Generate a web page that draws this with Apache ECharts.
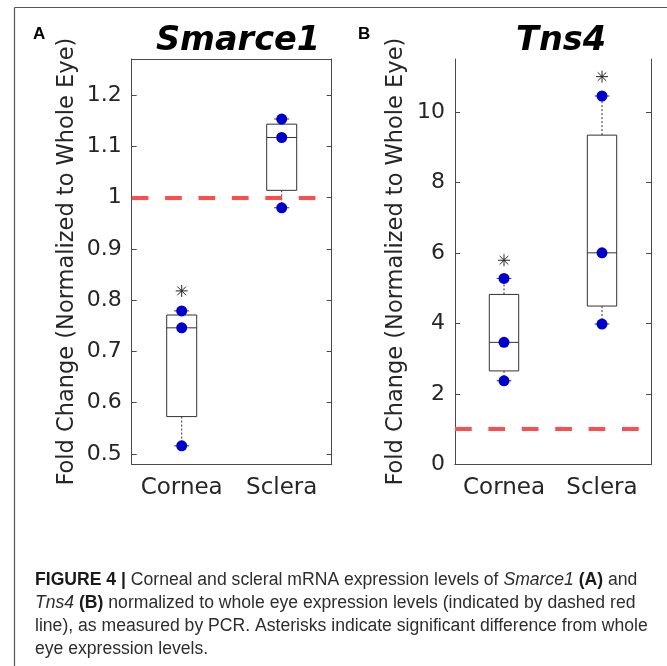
<!DOCTYPE html>
<html><head><meta charset="utf-8">
<script src="https://cdn.jsdelivr.net/npm/echarts@6/dist/echarts.min.js"></script>
<style>html,body{margin:0;padding:0;background:#fff}#c{width:667px;height:666px}</style>
</head><body><div id="c"></div>
<script>
const categories = ['Cornea', 'Sclera'];
// box stats: [lower whisker, q1, median, q3, upper whisker]
const smarceBoxes = [[0.516, 0.573, 0.746, 0.771, 0.779], [0.980, 1.014, 1.117, 1.143, 1.153]];
const smarcePoints = [[0.779, 0.746, 0.516], [1.153, 1.117, 0.980]];
const smarceStars = [0.818, null];
const smarceTicks = [0.5, 0.6, 0.7, 0.8, 0.9, 1.0, 1.1, 1.2];
const tnsBoxes = [[2.37, 2.65, 3.46, 4.82, 5.275], [3.98, 4.49, 6.0, 9.34, 10.45]];
const tnsPoints = [[5.275, 3.46, 2.37], [10.45, 6.0, 3.98]];
const tnsStars = [5.79, 11.0];
const tnsTicks = [0, 2, 4, 6, 8, 10];
const refLevel = 1;
const yName = 'Fold Change (Normalized to Whole Eye)';

const AX = '#4a4a4a', TXT = '#262626';
const FONT = 'DejaVu Sans';

function xAxes(gi) {
  return [
    { type: 'category', gridIndex: gi, data: categories, position: 'bottom',
      axisLine: { lineStyle: { color: AX, width: 1 } },
      axisTick: { inside: true, length: 5, alignWithLabel: true, lineStyle: { color: AX } },
      axisLabel: { color: TXT, fontSize: 23, fontFamily: FONT, margin: 12, interval: 0, hideOverlap: false },
      splitLine: { show: false } },
    { type: 'category', gridIndex: gi, data: categories, position: 'top',
      axisLine: { lineStyle: { color: AX, width: 1 } },
      axisTick: { inside: true, length: 5, alignWithLabel: true, lineStyle: { color: AX } },
      axisLabel: { show: false }, splitLine: { show: false } }
  ];
}
function yAxes(gi, min, max, ticks, gap) {
  return [
    { type: 'value', gridIndex: gi, min: min, max: max, position: 'left',
      name: yName, nameLocation: 'middle', nameGap: gap, nameRotate: 90,
      nameTextStyle: { color: TXT, fontSize: 22.5, fontFamily: FONT },
      axisLine: { show: true, lineStyle: { color: AX, width: 1 } },
      axisTick: { show: true, inside: true, length: 5, customValues: ticks, lineStyle: { color: AX } },
      axisLabel: { color: TXT, fontSize: 22, fontFamily: FONT, margin: 10, customValues: ticks,
        formatter: v => String(+(+v).toFixed(2)) },
      splitLine: { show: false } },
    { type: 'value', gridIndex: gi, min: min, max: max, position: 'right',
      axisLine: { show: true, lineStyle: { color: AX, width: 1 } },
      axisTick: { show: true, inside: true, length: 5, customValues: ticks, lineStyle: { color: AX } },
      axisLabel: { show: false }, splitLine: { show: false } }
  ];
}

function boxSeries(xi, yi, boxes) {
  return {
    type: 'custom', xAxisIndex: xi, yAxisIndex: yi, z: 2, silent: true,
    data: boxes.map((b, i) => [i].concat(b)),
    renderItem: function (params, api) {
      const c = api.value(0);
      const band = api.size([1, 0])[0];
      const hw = band * 0.15, cw = band * 0.075;
      const x = api.coord([c, 0])[0];
      const yl = api.coord([c, api.value(1)])[1];
      const y1 = api.coord([c, api.value(2)])[1];
      const ym = api.coord([c, api.value(3)])[1];
      const y3 = api.coord([c, api.value(4)])[1];
      const yh = api.coord([c, api.value(5)])[1];
      const st = { stroke: '#333', lineWidth: 1, fill: null };
      const dot = { stroke: '#333', lineWidth: 1, lineDash: [2, 2] };
      return { type: 'group', children: [
        { type: 'line', shape: { x1: x, y1: y3, x2: x, y2: yh }, style: dot },
        { type: 'line', shape: { x1: x, y1: y1, x2: x, y2: yl }, style: dot },
        { type: 'line', shape: { x1: x - cw, y1: yh, x2: x + cw, y2: yh }, style: st },
        { type: 'line', shape: { x1: x - cw, y1: yl, x2: x + cw, y2: yl }, style: st },
        { type: 'rect', shape: { x: x - hw, y: y3, width: 2 * hw, height: y1 - y3 }, style: { stroke: '#333', lineWidth: 1, fill: 'rgba(0,0,0,0)' } },
        { type: 'line', shape: { x1: x - hw, y1: ym, x2: x + hw, y2: ym }, style: st }
      ] };
    },
    markLine: { silent: true, symbol: 'none', label: { show: false },
      lineStyle: { color: '#ff4c4c', width: 4, type: [16.7, 16.7] },
      data: [{ yAxis: refLevel }] }
  };
}
function pointSeries(xi, yi, pts) {
  const d = [];
  pts.forEach((arr, i) => arr.forEach(v => d.push([i, v])));
  return { type: 'scatter', xAxisIndex: xi, yAxisIndex: yi, z: 5, silent: true,
    symbol: 'circle', symbolSize: 11, itemStyle: { color: '#0000cc', opacity: 1 }, data: d };
}
function starSeries(xi, yi, stars) {
  const d = [];
  stars.forEach((v, i) => { if (v != null) d.push([i, v]); });
  return { type: 'custom', xAxisIndex: xi, yAxisIndex: yi, z: 5, silent: true, data: d,
    renderItem: function (params, api) {
      const p = api.coord([api.value(0), api.value(1)]);
      const r = 6, q = 4.3;
      const st = { stroke: '#222', lineWidth: 1 };
      return { type: 'group', children: [
        { type: 'line', shape: { x1: p[0] - r, y1: p[1], x2: p[0] + r, y2: p[1] }, style: st },
        { type: 'line', shape: { x1: p[0], y1: p[1] - r, x2: p[0], y2: p[1] + r }, style: st },
        { type: 'line', shape: { x1: p[0] - q, y1: p[1] - q, x2: p[0] + q, y2: p[1] + q }, style: st },
        { type: 'line', shape: { x1: p[0] - q, y1: p[1] + q, x2: p[0] + q, y2: p[1] - q }, style: st }
      ] };
    } };
}

const chart = echarts.init(document.getElementById('c'), null, { renderer: 'canvas' });
chart.setOption({
  animation: false,
  backgroundColor: '#fff',
  title: [
    { text: 'Smarce1', left: 233, top: 19, textAlign: 'center',
      textStyle: { fontSize: 33.5, fontWeight: 'bold', fontStyle: 'italic', fontFamily: FONT, color: '#000' } },
    { text: 'Tns4', left: 556, top: 19, textAlign: 'center',
      textStyle: { fontSize: 33.5, fontWeight: 'bold', fontStyle: 'italic', fontFamily: FONT, color: '#000' } }
  ],
  grid: [
    { left: 131.7, top: 59, width: 200, height: 405.3 },
    { left: 455, top: 59, width: 196, height: 405.3 }
  ],
  xAxis: xAxes(0).concat(xAxes(1)),
  yAxis: yAxes(0, 0.48, 1.27, smarceTicks, 53).concat(yAxes(1, 0, 11.5, tnsTicks, 47)),
  series: [
    boxSeries(0, 0, smarceBoxes), pointSeries(0, 0, smarcePoints), starSeries(0, 0, smarceStars),
    boxSeries(2, 2, tnsBoxes), pointSeries(2, 2, tnsPoints), starSeries(2, 2, tnsStars)
  ],
  graphic: [
    { type: 'line', shape: { x1: 14.5, y1: 7.5, x2: 667, y2: 7.5 }, style: { stroke: '#555', lineWidth: 1.2 } },
    { type: 'line', shape: { x1: 14.5, y1: 7.5, x2: 14.5, y2: 666 }, style: { stroke: '#555', lineWidth: 1.2 } },
    { type: 'text', left: 33, top: 26, style: { text: 'A', fontSize: 17, fontWeight: 'bold', fontFamily: 'Liberation Sans', fill: '#000' } },
    { type: 'text', left: 358, top: 26, style: { text: 'B', fontSize: 17, fontWeight: 'bold', fontFamily: 'Liberation Sans', fill: '#000' } },
    { type: 'text', left: 35, top: 568, style: {
      text: '{b|FIGURE 4 |} Corneal and scleral mRNA expression levels of {i|Smarce1} {b|(A)} and\n' +
            '{i|Tns4} {b|(B)} normalized to whole eye expression levels (indicated by dashed red\n' +
            'line), as measured by PCR. Asterisks indicate significant difference from whole\n' +
            'eye expression levels.',
      fontSize: 17.6, fontFamily: 'Liberation Sans', fill: '#2d2d2d', lineHeight: 23.3,
      rich: {
        b: { fontSize: 17.6, fontFamily: 'Liberation Sans', fontWeight: 'bold', fill: '#1a1a1a', lineHeight: 23.3 },
        i: { fontSize: 17.6, fontFamily: 'Liberation Sans', fontStyle: 'italic', fill: '#2d2d2d', lineHeight: 23.3 }
      } } }
  ]
});
</script></body></html>
